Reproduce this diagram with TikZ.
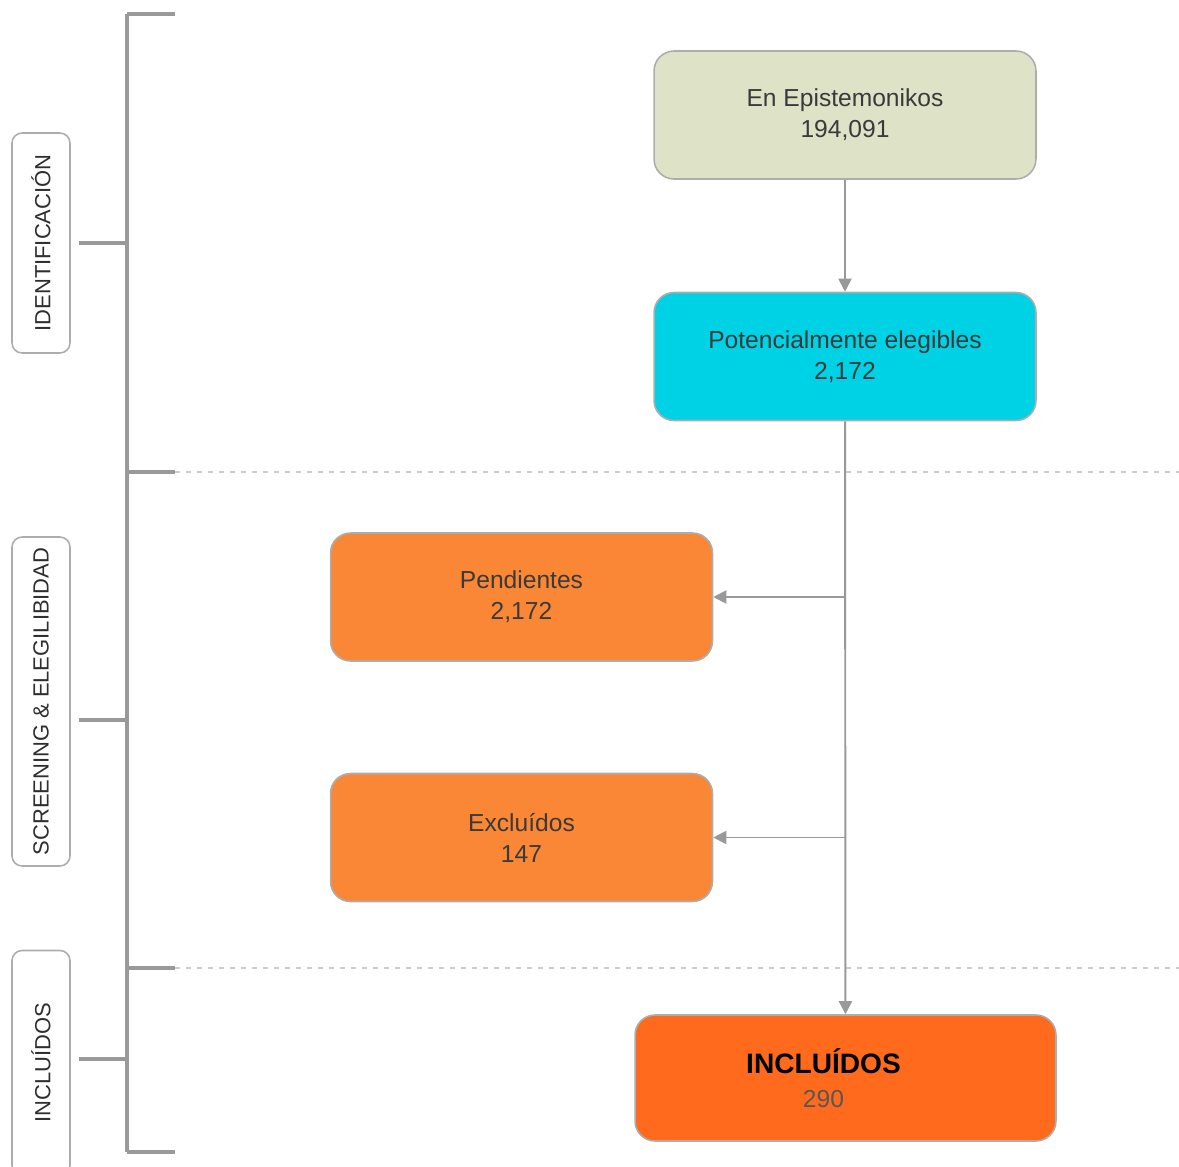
\documentclass[tikz,border=0pt]{standalone}
\usepackage{fontspec}
\setmainfont{Liberation Sans}
\usetikzlibrary{arrows.meta,positioning}

\definecolor{olivebox}{HTML}{DEE3C8}
\definecolor{cyanbox}{HTML}{00D2E6}
\definecolor{orangebox}{HTML}{FA8735}
\definecolor{finalbox}{HTML}{FF6A1C}
\definecolor{linegray}{HTML}{999999}
\definecolor{textgray}{HTML}{3A3A3A}

\tikzset{
  stage/.style={draw=linegray!80, line width=0.9pt, rounded corners=0.4cm,
    minimum width=7.64cm, minimum height=2.56cm, align=center,
    text=textgray, font=\fontsize{14}{17.6}\selectfont},
  phase/.style={draw=linegray!80, line width=0.9pt, rounded corners=0.2cm,
    rotate=90, minimum height=1.16cm, text=textgray!80!black,
    font=\fontsize{12.5}{15}\selectfont},
  link/.style={draw=linegray, line width=1.1pt,
    -{Triangle[length=0.26cm,width=0.26cm]}},
  rail/.style={draw=linegray, line width=2pt},
  sep/.style={draw=linegray!50, line width=1pt, dash pattern=on 0.1cm off 0.12cm}
}

\begin{document}
\begin{tikzpicture}[x=0.02cm,y=-0.02cm]
            \useasboundingbox (0,0) rectangle (1179,1166);

            % Separators
            \draw[sep] (175,472) -- (1179,472);
            \draw[sep] (175,968) -- (1179,968);

            % Bracket
            \draw[rail] (127,14) -- (127,1152);
            \foreach \y in {14,472,968,1152}{
            \draw[rail] (127,\y) -- (175,\y);
            }
            \foreach \y in {243,720,1059}{
            \draw[rail] (79,\y) -- (127,\y);
            }

            % Phase labels
            \node[phase, minimum width=4.4cm] (ident) at (41,243) {IDENTIFICACIÓN};
            \node[phase, minimum width=6.58cm] (screen) at (41,701.5) {SCREENING \& ELEGILIBIDAD};
            \node[phase, minimum width=4.5cm] (incl) at (41,1063) {INCLUÍDOS};

            % Boxes
            \node[stage, fill=olivebox] (epist) at (845,115) {En Epistemonikos\\194,091};
            \node[stage, fill=cyanbox] (elig) at (845,356.5) {Potencialmente elegibles\\2,172};
            \node[stage, fill=orangebox] (pend) at (521.5,597) {Pendientes\\2,172};
            \node[stage, fill=orangebox] (excl) at (521.5,837.5) {Excluídos\\147};
            \node[stage, fill=finalbox, minimum width=8.42cm, minimum height=2.52cm,
              font=\fontsize{16}{20}\selectfont] (final) at (845.5,1078)
              {\textcolor{black}{\textbf{INCLUÍDOS}}\hspace*{0.88cm}\\[-1pt]{\fontsize{14}{17}\selectfont\textcolor{textgray!85}{290}\hspace*{0.88cm}}};

            % Flow
            \draw[link] (epist) -- (elig);
            \draw[link] (elig) -- (final);
            \coordinate (split1) at (elig.south |- pend.east);
            \coordinate (split2) at (elig.south |- excl.east);
            \draw[link] (split1) -- (pend);
            \draw[link] (split2) -- (excl);
        \end{tikzpicture}
\end{document}
